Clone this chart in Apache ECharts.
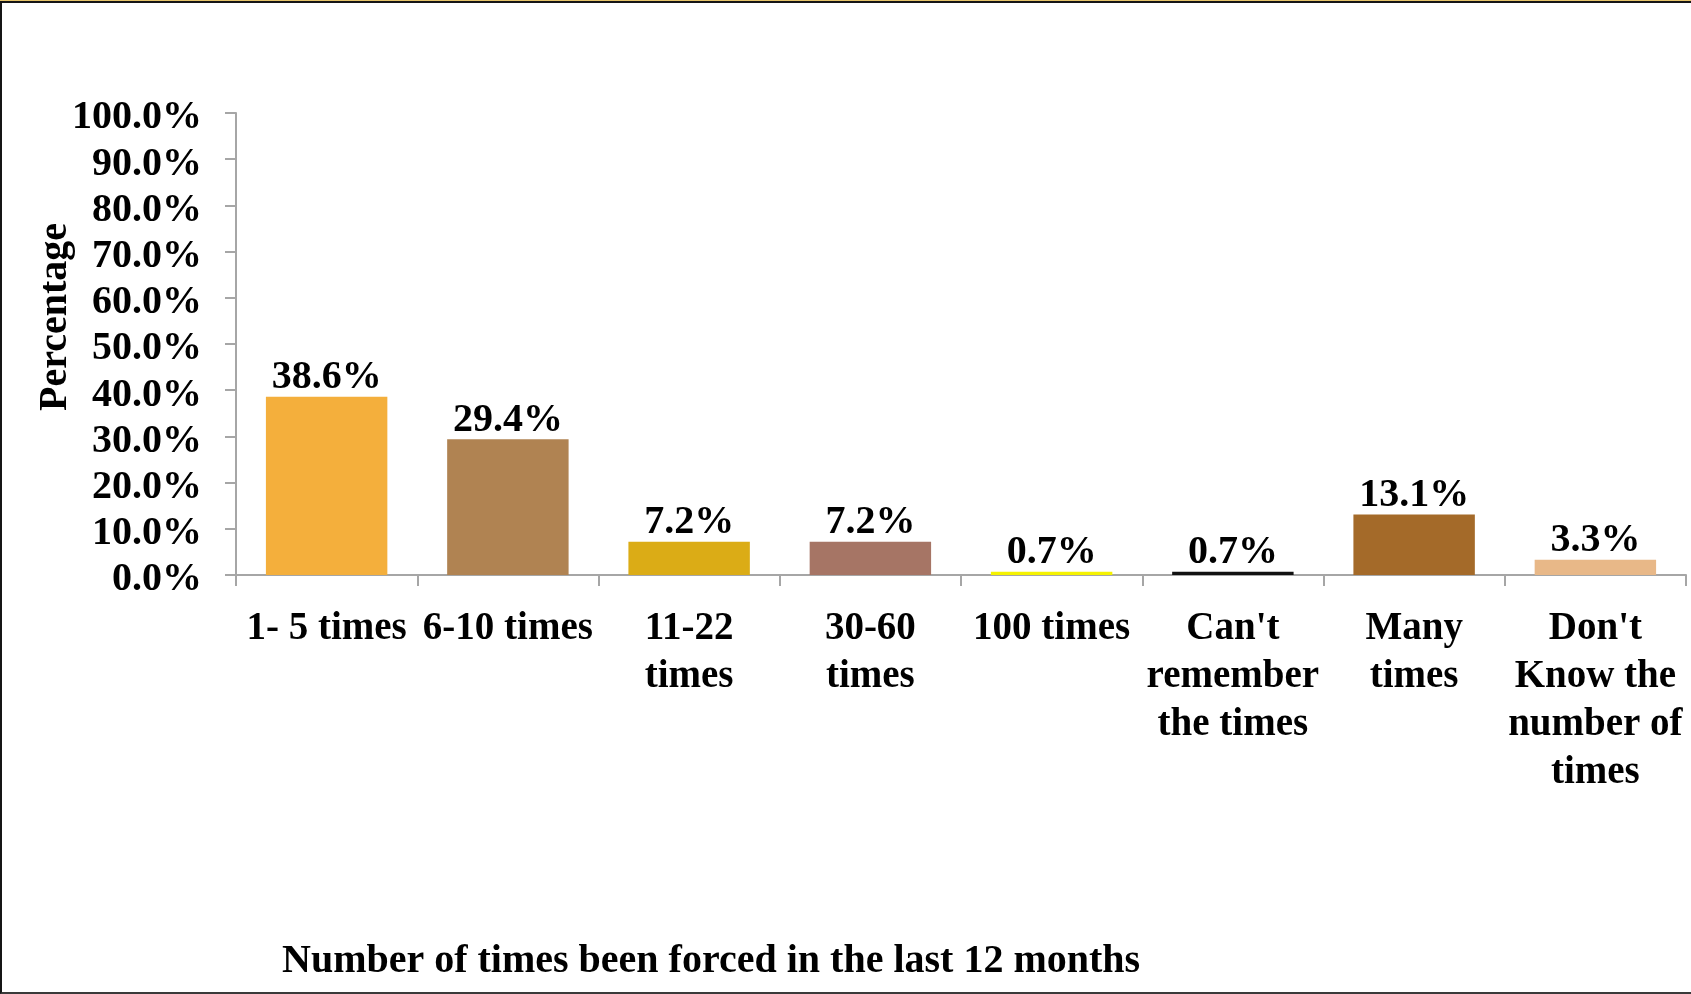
<!DOCTYPE html>
<html>
<head>
<meta charset="utf-8">
<script src="https://cdn.jsdelivr.net/npm/echarts@6/dist/echarts.min.js"></script>
<style>
  html, body { margin: 0; padding: 0; background: #fff; }
  #frame {
    position: absolute; left: 0; top: 0; width: 1691px; height: 994px;
    box-sizing: border-box;
    border-top: 1px solid #e6c46a;
  }
  #inner {
    position: absolute; left: 0; top: 0; right: 0; bottom: 0;
    box-sizing: border-box;
    border-top: 2px solid #151515;
    border-left: 2px solid #151515;
    border-bottom: 2px solid #3a3a3a;
  }
  #chart { position: absolute; left: 0; top: 0; width: 1691px; height: 994px; }
</style>
</head>
<body>
<div id="frame"><div id="inner"></div></div>
<div id="chart"></div>
<script>
// Frequency of being forced in the last 12 months (percent of respondents)
const categories = [
  '1- 5 times',
  '6-10 times',
  '11-22\ntimes',
  '30-60\ntimes',
  '100 times',
  "Can't\nremember\nthe times",
  'Many\ntimes',
  "Don't\nKnow the\nnumber of\ntimes"
];
const percentages = [38.6, 29.4, 7.2, 7.2, 0.7, 0.7, 13.1, 3.3];
const barColors = ['#F4AF3C', '#B08352', '#DBAC16', '#A67565', '#F5F200', '#111111', '#A46A29', '#E8B888'];
const yTicks = { min: 0, max: 100, interval: 10 };
const xTitle = 'Number of times been forced in the last 12 months';
const yTitle = 'Percentage';

const serif = '"Liberation Serif", "Times New Roman", serif';
const chart = echarts.init(document.getElementById('chart'), null, { renderer: 'canvas' });

chart.setOption({
  animation: false,
  backgroundColor: 'transparent',
  title: {
    text: xTitle,
    left: 277,
    top: 937,
    textStyle: { fontFamily: serif, fontWeight: 'bold', fontSize: 40, color: '#000' }
  },
  graphic: [{
    type: 'text',
    x: 56,
    y: 317,
    rotation: Math.PI / 2,
    style: {
      text: yTitle,
      fontFamily: serif, fontWeight: 'bold', fontSize: 40, fill: '#000',
      align: 'center', verticalAlign: 'middle'
    }
  }],
  grid: { left: 236, right: 5, top: 113, bottom: 419, containLabel: false },
  xAxis: {
    type: 'category',
    data: categories,
    axisLine: { lineStyle: { color: '#A6A6A6', width: 2 } },
    axisTick: { show: true, length: 11, lineStyle: { color: '#A6A6A6', width: 2 } },
    axisLabel: {
      interval: 0,
      margin: 30,
      fontFamily: serif, fontWeight: 'bold', fontSize: 39, color: '#000',
      lineHeight: 48, align: 'center'
    },
    splitLine: { show: false }
  },
  yAxis: {
    type: 'value',
    min: yTicks.min,
    max: yTicks.max,
    interval: yTicks.interval,
    axisLine: { show: true, lineStyle: { color: '#A6A6A6', width: 2 } },
    axisTick: { show: true, length: 11, lineStyle: { color: '#A6A6A6', width: 2 } },
    splitLine: { show: false },
    axisLabel: {
      margin: 34,
      fontFamily: serif, fontWeight: 'bold', fontSize: 40, color: '#000',
      formatter: v => '{v|' + v.toFixed(1) + '%}',
      rich: {
        v: {
          fontFamily: serif, fontWeight: 'bold', fontSize: 40, color: '#000',
          padding: [10, 0, 0, 0]
        }
      }
    }
  },
  series: [{
    type: 'bar',
    data: percentages.map((v, i) => ({ value: v, itemStyle: { color: barColors[i] } })),
    barCategoryGap: '33%',
    label: {
      show: true,
      position: 'top',
      distance: -1,
      fontFamily: serif, fontWeight: 'bold', fontSize: 40, color: '#000',
      formatter: p => p.value.toFixed(1) + '%'
    }
  }]
});
</script>
</body>
</html>
